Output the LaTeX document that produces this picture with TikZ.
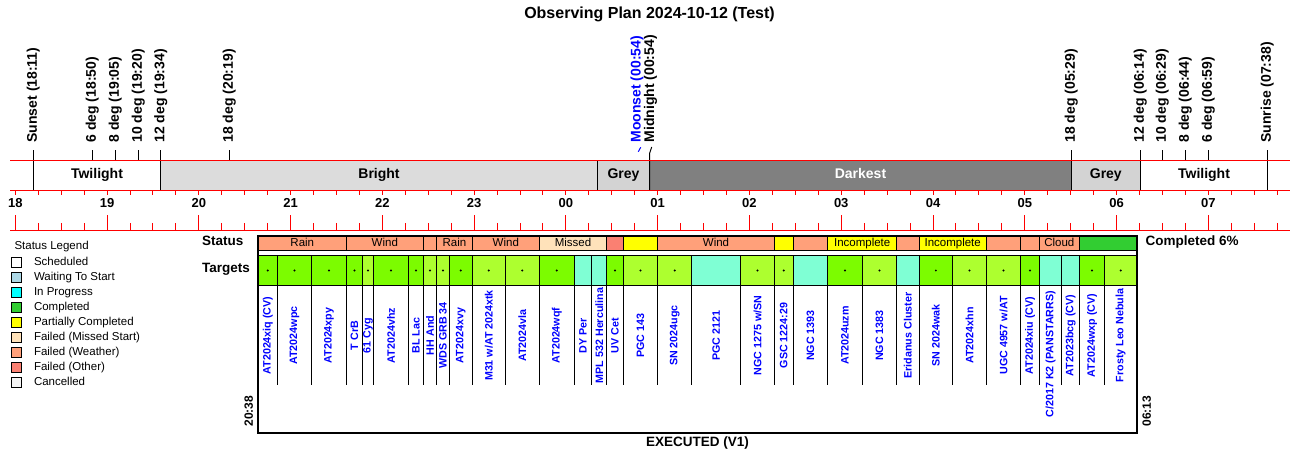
\documentclass[tikz,border=0pt]{standalone}
\usepackage{fontspec}
\setmainfont{Liberation Sans}
\definecolor{bandbright}{RGB}{220,220,220}
\definecolor{bandgrey}{RGB}{211,211,211}
\definecolor{banddark}{RGB}{128,128,128}
\definecolor{lawn}{RGB}{124,252,0}
\definecolor{gyel}{RGB}{173,255,47}
\definecolor{aqua}{RGB}{127,255,212}
\definecolor{wxfail}{RGB}{255,160,122}
\definecolor{othfail}{RGB}{250,128,114}
\definecolor{missed}{RGB}{255,226,186}
\definecolor{partial}{RGB}{255,255,0}
\definecolor{done}{RGB}{50,205,50}
\definecolor{waiting}{RGB}{173,216,230}
\definecolor{inprog}{RGB}{0,255,255}
\definecolor{cancel}{RGB}{245,245,245}
\definecolor{tgtblue}{RGB}{0,0,255}
\tikzset{
  every node/.style={inner sep=0pt},
  redline/.style={red, line width=1pt},
  redtick/.style={red, line width=1pt},
  plantitle/.style={font=\bfseries\fontsize{16}{18}\selectfont, text height=0.72em, text depth=0pt},
  evlabel/.style={font=\bfseries\fontsize{14}{16}\selectfont, rotate=90, anchor=west},
  bandlabel/.style={font=\bfseries\fontsize{14}{16}\selectfont, text height=0.72em, text depth=0pt},
  hourlabel/.style={font=\bfseries\fontsize{13}{15}\selectfont, text height=0.72em, text depth=0pt},
  rowhead/.style={font=\bfseries\fontsize{13.5}{15}\selectfont, anchor=west, text height=0.72em, text depth=0pt},
  statlabel/.style={font=\fontsize{11.5}{13}\selectfont, text height=0.72em, text depth=0pt},
  legtext/.style={font=\fontsize{11.5}{13}\selectfont, anchor=west, text height=0.72em, text depth=0pt},
  tgtname/.style={font=\bfseries\fontsize{10.7}{12}\selectfont, text=tgtblue, rotate=90},
  stamp/.style={font=\bfseries\fontsize{12}{14}\selectfont, rotate=90, anchor=west}
}
\begin{document}
\begin{tikzpicture}[x=1pt, y=-1pt, line width=1pt]
  \useasboundingbox (0,0) rectangle (1300,464);
  \node[plantitle] (title) at (649.5,14.5) {Observing Plan 2024-10-12 (Test)};
  % darkness bands
  \fill[bandbright] (160.7,160) rectangle (597.3,190);
  \fill[bandgrey] (597.3,160) rectangle (649.7,190);
  \fill[banddark] (649.7,160) rectangle (1071.3,190);
  \fill[bandgrey] (1071.3,160) rectangle (1140.3,190);
  \node[bandlabel] (tw1) at (97,174.5) {Twilight};
  \node[bandlabel] (bright) at (379,174.5) {Bright};
  \node[bandlabel] (grey1) at (623.5,174.5) {Grey};
  \node[bandlabel, text=white] (dark) at (860.5,174.5) {Darkest};
  \node[bandlabel] (grey2) at (1105.8,174.5) {Grey};
  \node[bandlabel] (tw2) at (1204,174.5) {Twilight};
  \draw (597.3,160) -- (597.3,190);
  % sun events
  \foreach \x/\txt/\yb [count=\k] in {33.3/Sunset (18:11)/190, 92.3/6 deg (18:50)/160,
      115.3/8 deg (19:05)/160, 138.3/10 deg (19:20)/160, 160.7/12 deg (19:34)/190,
      229.3/18 deg (20:19)/160, 1071.3/18 deg (05:29)/190, 1140.3/12 deg (06:14)/190,
      1162.3/10 deg (06:29)/160, 1185.3/8 deg (06:44)/160, 1208.3/6 deg (06:59)/160,
      1267.3/Sunrise (07:38)/190}{
    \draw (\x,150) -- (\x,\yb);
    \node[evlabel] (ev\k) at (\x,143) {\txt};
  }
  \draw (649.7,190) -- (649.7,153) -- (651.7,147);
  \draw[tgtblue] (638.3,151.7) -- (640.7,147.3);
  \node[evlabel] (midn) at (650.5,143) {Midnight (00:54)};
  \node[evlabel, text=tgtblue] (moons) at (637,143) {Moonset (00:54)};
  % time axis
  \draw[redline] (10,160) -- (1290,160);
  \draw[redline] (10,190) -- (1290,190);
  \draw[redline] (10,230) -- (1290,230);
  \foreach \i in {0,...,55}{
    \draw[redtick] ({15.3+22.9425*\i},190) -- +(0,5);
    \draw[redtick] ({15.3+22.9425*\i},230) -- +(0,-7.3);
  }
  \foreach \h [count=\i from 0] in {18,19,20,21,22,23,00,01,02,03,04,05,06,07}{
    \draw[redtick] ({15.3+91.77*\i},230) -- +(0,-15);
    \node[hourlabel] (h\h) at ({15.3+91.77*\i},204) {\h};
  }
  % legend
  \node[legtext] (leghead) at (14,246) {Status Legend};
  \foreach \col/\txt [count=\k] in {white/Scheduled, waiting/Waiting To Start,
      inprog/In Progress, done/Completed, partial/Partially Completed,
      missed/Failed (Missed Start), wxfail/Failed (Weather), othfail/Failed (Other),
      cancel/Cancelled}{
    \draw[fill=\col] (11,{242.3+15*\k}) rectangle (21.7,{252.3+15*\k});
    \node[legtext] (leg\k) at (33.5,{247.3+15*\k}) {\txt};
  }
  % status row
  \node[rowhead] (stathead) at (201.7,242) {Status};
  \node[rowhead] (tgthead) at (201.7,268.5) {Targets};
  \foreach \xa/\xb/\col in {258.3/346.3/wxfail, 346.3/423.3/wxfail, 423.3/436.7/wxfail,
      436.7/472.3/wxfail, 472.3/539.3/wxfail, 539.3/606.7/missed, 606.7/623.3/othfail,
      623.3/657.7/partial, 657.7/774.3/wxfail, 774.3/793.3/partial, 793.3/827.7/wxfail,
      827.7/896.7/partial, 896.7/919/wxfail, 919/986.3/partial, 986.3/1020.7/wxfail,
      1020.7/1039.3/wxfail, 1039.3/1079.3/wxfail, 1079.3/1136.7/done}
    \draw[fill=\col] (\xa,235.7) rectangle (\xb,250);
  \foreach \xm/\txt [count=\k] in {302.3/Rain, 384.8/Wind, 454.5/Rain, 505.8/Wind,
      573/Missed, 716/Wind, 862.2/Incomplete, 952.7/Incomplete, 1059.3/Cloud}
    \node[statlabel] (st\k) at (\xm,242.8) {\txt};
  \node[rowhead] (pct) at (1145,242.3) {Completed 6\%};
  % targets
  \foreach \xa/\xb/\col/\dt/\yc/\name [count=\k] in {
      258.3/277.3/lawn/1/335.5/AT2024xiq (CV),
      277.3/311.7/lawn/1/335.5/AT2024wpc,
      311.7/346.3/lawn/1/335.5/AT2024xpy,
      346.3/362.7/lawn/1/335.5/T CrB,
      362.7/373.3/gyel/1/335.5/61 Cyg,
      373.3/408.7/lawn/1/335.5/AT2024vhz,
      408.7/423.3/lawn/1/335.5/BL Lac,
      423.3/436.7/gyel/1/335.5/HH And,
      436.7/449.3/gyel/1/335.5/WDS GRB 34,
      449.3/472.3/lawn/1/335.5/AT2024xvy,
      472.3/505.3/gyel/1/335.5/{M31 w/AT 2024xtk},
      505.3/539.3/gyel/1/335.5/AT2024vla,
      539.3/574.3/lawn/1/335.5/AT2024wqf,
      574.3/591.7/aqua/0/335.5/DY Per,
      591.7/606.7/aqua/0/335.5/MPL 532 Herculina,
      606.7/623.3/lawn/1/335.5/UV Cet,
      623.3/657.7/gyel/1/335.5/PGC 143,
      657.7/691.7/gyel/1/335.5/SN 2024ugc,
      691.7/740.7/aqua/0/335.5/PGC 2121,
      740.7/774.3/gyel/1/335.5/{NGC 1275 w/SN},
      774.3/793.3/gyel/1/335.5/GSC 1224:29,
      793.3/827.7/aqua/0/335.5/NGC 1393,
      827.7/862.3/lawn/1/335.5/AT2024uzm,
      862.3/896.7/gyel/1/335.5/NGC 1383,
      896.7/919/aqua/0/335.5/Eridanus Cluster,
      919/952.7/lawn/1/335.5/SN 2024wak,
      952.7/986.3/gyel/1/335.5/AT2024xhn,
      986.3/1020.7/gyel/1/335.5/{UGC 4957 w/AT},
      1020.7/1039.3/lawn/1/335.5/AT2024xiu (CV),
      1039.3/1061.7/aqua/0/354.2/{C/2017 K2 (PANSTARRS)},
      1061.7/1079.3/aqua/0/335.5/AT2023bcg (CV),
      1079.3/1104.7/lawn/1/335.5/AT2024wxp (CV),
      1104.7/1136.7/gyel/1/335.5/Frosty Leo Nebula}{
    \draw[fill=\col] (\xa,255.7) rectangle (\xb,285);
    \draw (\xb,285) -- (\xb,385);
    \ifnum\dt=1 \fill ({(\xa+\xb)/2},270.5) circle (1.1); \fi
    \node[tgtname] (tg\k) at ({(\xa+\xb)/2},\yc) {\name};
  }
  \draw[line width=2pt] (258.3,235.7) rectangle (1136.7,433.3);
  \node[stamp] (tstart) at (248.7,427) {20:38};
  \node[stamp] (tend) at (1146.7,427) {06:13};
  \node[rowhead, anchor=center] (exec) at (697.5,443.3) {EXECUTED (V1)};
\end{tikzpicture}
\end{document}
